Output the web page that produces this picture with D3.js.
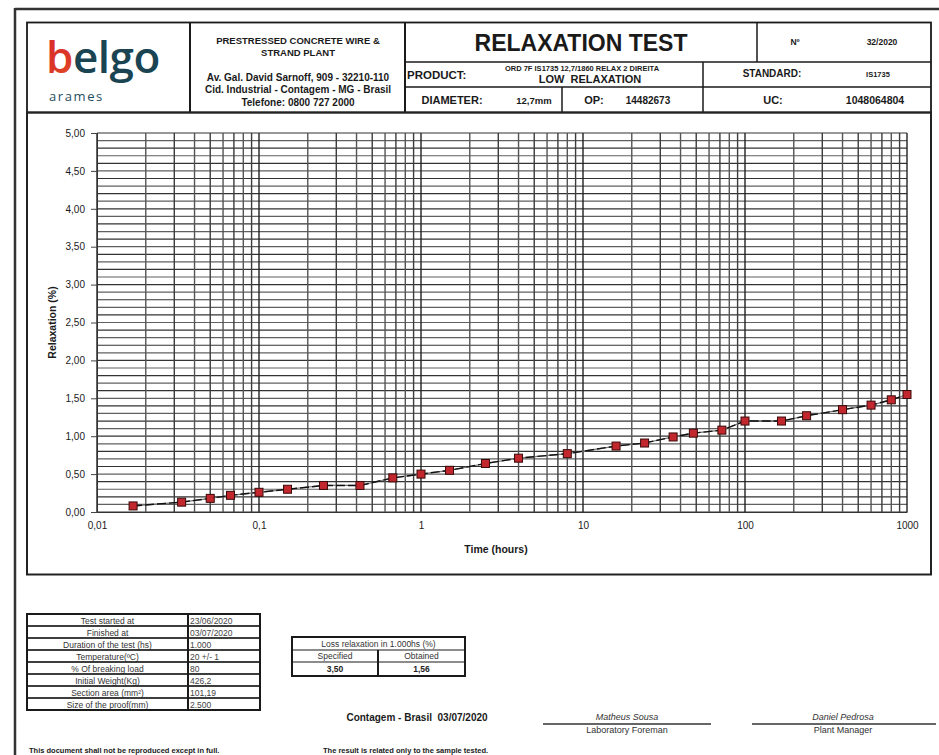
<!DOCTYPE html>
<html><head><meta charset="utf-8">
<script src="https://cdn.jsdelivr.net/npm/d3@7"></script>
<style>
html,body{margin:0;padding:0;background:#fff;}
svg{display:block;font-family:"Liberation Sans",Arial,sans-serif;}
</style></head>
<body>
<svg id="page" width="939" height="755"></svg>
<script>
// ---------- DATA ----------
const timeHours = [0.0167, 0.0333, 0.05, 0.0667, 0.1, 0.15, 0.25, 0.42, 0.67, 1, 1.5, 2.5, 4, 8, 16, 24, 36, 48, 72, 100, 168, 240, 400, 600, 800, 1000];
const relaxation = [0.08, 0.13, 0.18, 0.22, 0.26, 0.30, 0.35, 0.35, 0.45, 0.50, 0.55, 0.64, 0.71, 0.77, 0.87, 0.91, 0.99, 1.04, 1.08, 1.20, 1.20, 1.27, 1.35, 1.41, 1.48, 1.55];
const xTickValues = [0.01, 0.1, 1, 10, 100, 1000];
const xTickLabels = ["0,01", "0,1", "1", "10", "100", "1000"];
const yTickValues = [0, 0.5, 1, 1.5, 2, 2.5, 3, 3.5, 4, 4.5, 5];
const infoLabels = ["Test started at", "Finished at", "Duration of the test (hs)", "Temperature(ºC)", "% Of breaking load", "Initial Weight(Kg)", "Section area (mm²)", "Size of the proof(mm)"];
const infoValues = ["23/06/2020", "03/07/2020", "1.000", "20 +/- 1", "80", "426,2", "101,19", "2.500"];
const lossHeader = "Loss relaxation in 1.000hs (%)";
const lossCols = ["Specified", "Obtained"];
const lossValues = ["3,50", "1,56"];

const svg = d3.select("#page");
const ink = "#1a1a1a";

// ---------- PAGE FRAME ----------
svg.append("line").attr("x1",15).attr("x2",939).attr("y1",9).attr("y2",9).attr("stroke","#333").attr("stroke-width",2.5);
svg.append("line").attr("x1",15).attr("x2",15).attr("y1",8).attr("y2",755).attr("stroke","#333").attr("stroke-width",2.5);

// ---------- HEADER ----------
const H = svg.append("g");
function ln(x1,y1,x2,y2,w){H.append("line").attr("x1",x1).attr("y1",y1).attr("x2",x2).attr("y2",y2).attr("stroke",ink).attr("stroke-width",w||1.5);}
function tx(x,y,t,size,anchor,weight){
  return H.append("text").attr("x",x).attr("y",y).attr("font-size",size).attr("text-anchor",anchor||"middle").attr("font-weight",weight||"bold").attr("fill",ink).text(t);
}
H.append("rect").attr("x",27).attr("y",22.5).attr("width",904).attr("height",90).attr("fill","none").attr("stroke",ink).attr("stroke-width",1.8);
ln(190,22.5,190,112.5,2);
ln(405,22.5,405,112.5,2);
ln(757,22.5,757,62,1.5);
ln(405,62,931,62,1.5);
ln(405,87,931,87,1.5);
ln(703,62,703,112.5,1.5);
ln(562,87,562,112.5,1.5);

// logo
const logo = H.append("g");
const grad = svg.append("defs").append("linearGradient").attr("id","bgrad").attr("x1","0").attr("y1","0").attr("x2","1").attr("y2","0.6");
grad.append("stop").attr("offset","0%").attr("stop-color","#d8262e");
grad.append("stop").attr("offset","40%").attr("stop-color","#dc3a26");
grad.append("stop").attr("offset","70%").attr("stop-color","#f07d1e");
grad.append("stop").attr("offset","100%").attr("stop-color","#d42a30");
logo.append("text").attr("x",46).attr("y",73).attr("font-family","'Open Sans','Noto Sans',sans-serif").attr("font-size",44).attr("font-weight","600").attr("letter-spacing",-0.5)
  .call(t=>{t.append("tspan").attr("fill","url(#bgrad)").text("b");t.append("tspan").attr("fill","#1b4453").text("elgo");});
logo.append("text").attr("x",49).attr("y",101).attr("font-family","'Open Sans','Noto Sans',sans-serif").attr("font-size",13).attr("letter-spacing",1.6).attr("fill","#1f4e5f").text("arames");

tx(298,44,"PRESTRESSED CONCRETE WIRE &",9.5);
tx(298,56,"STRAND PLANT",9.5);
tx(298,81,"Av. Gal. David Sarnoff, 909 - 32210-110",10);
tx(298,93,"Cid. Industrial - Contagem - MG - Brasil",10);
tx(298,106,"Telefone: 0800 727 2000",10);

tx(581,51,"RELAXATION TEST",23);
tx(795,45,"Nº",8.5);
tx(882,45,"32/2020",8.5);
tx(407,79,"PRODUCT:",11.5,"start");
tx(582,71,"ORD 7F IS1735 12,7/1860 RELAX 2 DIREITA",7.5);
tx(590,83,"LOW  RELAXATION",11).attr("xml:space","preserve");
tx(772,77,"STANDARD:",10);
tx(878,77,"IS1735",7.5);
tx(452,104,"DIAMETER:",11);
tx(534,104,"12,7mm",9.5);
tx(594,104,"OP:",11);
tx(648,104,"14482673",10);
tx(773,104,"UC:",11);
tx(875,104,"1048064804",10.5);

// ---------- CHART ----------
svg.append("rect").attr("x",27).attr("y",112.5).attr("width",904).attr("height",462).attr("fill","none").attr("stroke","#222").attr("stroke-width",2);

const x = d3.scaleLog().domain([0.01,1000]).range([97,907]);
const y = d3.scaleLinear().domain([0,5]).range([512,133]);
const C = svg.append("g");

// horizontal grid every 0.1
const hLines = d3.range(0,51).map(i=>i/10);
C.append("g").selectAll("line").data(hLines).join("line")
  .attr("x1",x(0.01)).attr("x2",x(1000))
  .attr("y1",d=>y(d)).attr("y2",d=>y(d))
  .attr("stroke",(d,i)=>i%2? "#606060":"#333").attr("stroke-width",1.2);
// vertical grid at log minor ticks
const vLines = x.ticks();
C.append("g").selectAll("line").data(vLines).join("line")
  .attr("x1",d=>x(d)).attr("x2",d=>x(d))
  .attr("y1",y(0)).attr("y2",y(5))
  .attr("stroke",(d)=>{const m=Math.round(d/Math.pow(10,Math.floor(Math.log10(d)+1e-9)));return m===1?"#222":(m%2? "#3c3c3c":"#555");})
  .attr("stroke-width",1.4);

// axes
const yAxis = d3.axisLeft(y).tickValues(yTickValues).tickSize(6).tickPadding(6)
  .tickFormat(d=>d3.format(".2f")(d).replace(".",","));
const gy = C.append("g").attr("transform",`translate(${x(0.01)},0)`).call(yAxis);
gy.select(".domain").attr("stroke","#333");
gy.selectAll(".tick line").attr("stroke","#444");
gy.selectAll("text").attr("font-size",10).attr("fill",ink).attr("font-family","'Liberation Sans',Arial,sans-serif");

const xAxis = d3.axisBottom(x).tickValues(xTickValues).tickSize(0).tickPadding(10)
  .tickFormat((d,i)=>xTickLabels[i]);
const gx = C.append("g").attr("transform",`translate(0,${y(0)})`).call(xAxis);
gx.select(".domain").attr("stroke","#333");
gx.selectAll("text").attr("font-size",10).attr("fill",ink).attr("font-family","'Liberation Sans',Arial,sans-serif");

C.append("text").attr("transform",`translate(56,${(y(0)+y(5))/2}) rotate(-90)`).attr("text-anchor","middle")
  .attr("font-size",10.5).attr("font-weight","bold").attr("fill",ink).text("Relaxation (%)");
C.append("text").attr("x",496).attr("y",553).attr("text-anchor","middle")
  .attr("font-size",10.5).attr("font-weight","bold").attr("fill",ink).text("Time (hours)");

// series line
const pts = timeHours.map((t,i)=>[t,relaxation[i]]);
const line = d3.line().x(d=>x(d[0])).y(d=>y(d[1]));
C.append("path").datum(pts).attr("d",line).attr("fill","none").attr("stroke","#777").attr("stroke-width",1.2);
C.append("path").datum(pts).attr("d",line).attr("fill","none").attr("stroke","#111").attr("stroke-width",1.4).attr("stroke-dasharray","9,3");
// markers
C.append("g").selectAll("rect").data(pts).join("rect")
  .attr("x",d=>x(d[0])-4).attr("y",d=>y(d[1])-4).attr("width",8).attr("height",8)
  .attr("fill","#c1272d").attr("stroke","#3a0a0a").attr("stroke-width",1);

// ---------- INFO TABLE ----------
const T = svg.append("g").attr("font-family","'Liberation Sans Narrow','Liberation Sans',Arial,sans-serif");
const tX0=27, tX1=188, tX2=260, tY0=614, rowH=12;
infoLabels.forEach((lab,i)=>{
  const yy=tY0+i*rowH;
  T.append("rect").attr("x",tX0).attr("y",yy).attr("width",tX1-tX0).attr("height",rowH).attr("fill","none").attr("stroke",ink).attr("stroke-width",1.2);
  T.append("rect").attr("x",tX1).attr("y",yy).attr("width",tX2-tX1).attr("height",rowH).attr("fill","none").attr("stroke",ink).attr("stroke-width",1.2);
  T.append("text").attr("x",(tX0+tX1)/2).attr("y",yy+9.5).attr("text-anchor","middle").attr("font-size",8.5).attr("fill","#333").text(lab);
  T.append("text").attr("x",tX1+2).attr("y",yy+9.5).attr("font-size",8.5).attr("fill","#444").text(infoValues[i]);
});
T.append("line").attr("x1",tX1).attr("x2",tX1).attr("y1",tY0).attr("y2",tY0+8*rowH).attr("stroke",ink).attr("stroke-width",2);
T.append("rect").attr("x",tX0).attr("y",tY0).attr("width",tX2-tX0).attr("height",8*rowH).attr("fill","none").attr("stroke",ink).attr("stroke-width",2);

// loss table
const lX0=292, lX1=378, lX2=465, lY0=637;
T.append("rect").attr("x",lX0).attr("y",lY0).attr("width",lX2-lX0).attr("height",39).attr("fill","none").attr("stroke",ink).attr("stroke-width",2);
T.append("line").attr("x1",lX0).attr("x2",lX2).attr("y1",lY0+13).attr("y2",lY0+13).attr("stroke",ink).attr("stroke-width",1.2);
T.append("line").attr("x1",lX0).attr("x2",lX2).attr("y1",lY0+25).attr("y2",lY0+25).attr("stroke",ink).attr("stroke-width",1.2);
T.append("line").attr("x1",lX1).attr("x2",lX1).attr("y1",lY0+13).attr("y2",lY0+39).attr("stroke",ink).attr("stroke-width",2);
T.append("text").attr("x",(lX0+lX2)/2).attr("y",lY0+10).attr("text-anchor","middle").attr("font-size",8.5).attr("fill","#333").text(lossHeader);
lossCols.forEach((c,i)=>{
  const cx = i? (lX1+lX2)/2 : (lX0+lX1)/2;
  T.append("text").attr("x",cx).attr("y",lY0+22).attr("text-anchor","middle").attr("font-size",8.5).attr("fill","#333").text(c);
  T.append("text").attr("x",cx).attr("y",lY0+35).attr("text-anchor","middle").attr("font-size",8.5).attr("font-weight","bold").attr("fill","#222").text(lossValues[i]);
});

// ---------- FOOTER ----------
const F = svg.append("g");
F.append("text").attr("x",417).attr("y",721).attr("text-anchor","middle").attr("font-size",10).attr("font-weight","bold").attr("fill",ink).attr("xml:space","preserve").text("Contagem - Brasil  03/07/2020");
F.append("line").attr("x1",543).attr("x2",711).attr("y1",724).attr("y2",724).attr("stroke","#333").attr("stroke-width",1.3);
F.append("line").attr("x1",752).attr("x2",936).attr("y1",724).attr("y2",724).attr("stroke","#333").attr("stroke-width",1.3);
F.append("text").attr("x",627).attr("y",720).attr("text-anchor","middle").attr("font-size",9).attr("font-style","italic").attr("fill","#333").text("Matheus Sousa");
F.append("text").attr("x",627).attr("y",733).attr("text-anchor","middle").attr("font-size",9).attr("fill","#333").attr("font-family","'Liberation Sans Narrow','Liberation Sans',sans-serif").text("Laboratory Foreman");
F.append("text").attr("x",843).attr("y",720).attr("text-anchor","middle").attr("font-size",9).attr("font-style","italic").attr("fill","#333").text("Daniel Pedrosa");
F.append("text").attr("x",843).attr("y",733).attr("text-anchor","middle").attr("font-size",9).attr("fill","#333").attr("font-family","'Liberation Sans Narrow','Liberation Sans',sans-serif").text("Plant Manager");
F.append("text").attr("x",29).attr("y",753).attr("font-size",7.5).attr("font-weight","bold").attr("fill",ink).text("This document shall not be reproduced except in full.");
F.append("text").attr("x",323).attr("y",753).attr("font-size",7.5).attr("font-weight","bold").attr("fill",ink).text("The result is related only to the sample tested.");
</script>
</body></html>
